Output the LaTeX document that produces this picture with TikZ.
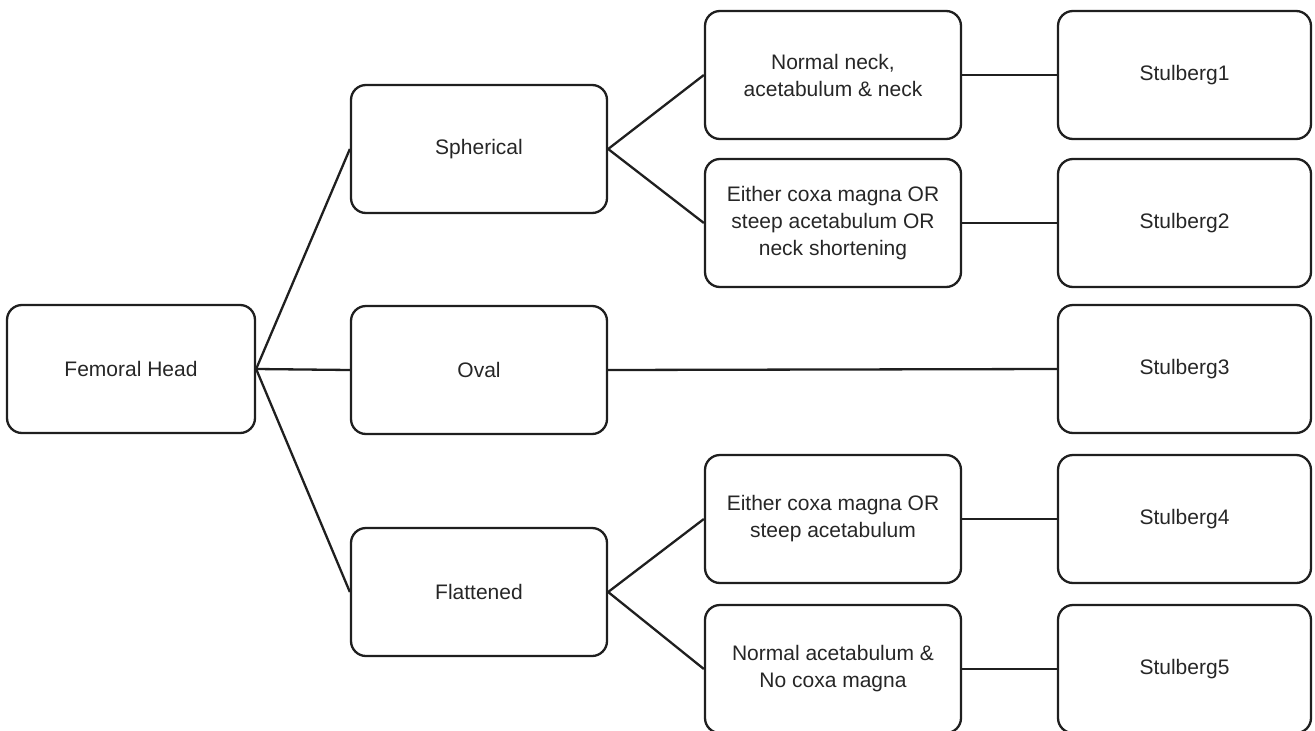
\documentclass[tikz,border=0pt]{standalone}
\usepackage{fontspec}
\setmainfont{Liberation Sans}
\usetikzlibrary{positioning}

\begin{document}
\begin{tikzpicture}[x=1pt, y=-1pt, every path/.style={line width=2.3pt, color=black!88}, box/.style={draw, rounded corners=15pt, minimum height=128pt, inner sep=0pt, align=center, text=black!85, font=\fontsize{21}{27}\selectfont}, leftbox/.style={box, minimum width=248pt}, midbox/.style={box, minimum width=256pt}, endbox/.style={box, minimum width=253pt}]
        \useasboundingbox (0,0) rectangle (1315,731);
        % first and second column
        \node[leftbox] (fh) at (131,369) {Femoral Head};
        \node[midbox] (sph) at (479,149) {Spherical};
        \node[midbox] (oval) at (479,370) {Oval};
        \node[midbox] (flat) at (479,592) {Flattened};
        % third column
        \node[midbox] (nn) at (833,75) {Normal neck,\\acetabulum \& neck};
        \node[midbox] (ecs) at (833,223) {Either coxa magna OR\\steep acetabulum OR\\neck shortening};
        \node[midbox] (ecsa) at (833,519) {Either coxa magna OR\\steep acetabulum};
        \node[midbox] (nac) at (833,669) {Normal acetabulum \&\\No coxa magna};
        % Stulberg classes
        \node[endbox] (s1) at (1184.5,75) {Stulberg1};
        \node[endbox] (s2) at (1184.5,223) {Stulberg2};
        \node[endbox] (s3) at (1184.5,369) {Stulberg3};
        \node[endbox] (s4) at (1184.5,519) {Stulberg4};
        \node[endbox] (s5) at (1184.5,669) {Stulberg5};
        \draw (fh.east) -- (sph.west);
        \draw (fh.east) -- (oval.west);
        \draw (fh.east) -- (flat.west);
        \draw (sph.east) -- (nn.west);
        \draw (sph.east) -- (ecs.west);
        \draw (flat.east) -- (ecsa.west);
        \draw (flat.east) -- (nac.west);
        \draw (nn.east) -- (s1.west);
        \draw (ecs.east) -- (s2.west);
        \draw (oval.east) -- (s3.west);
        \draw (ecsa.east) -- (s4.west);
        \draw (nac.east) -- (s5.west);
    \end{tikzpicture}
\end{document}
